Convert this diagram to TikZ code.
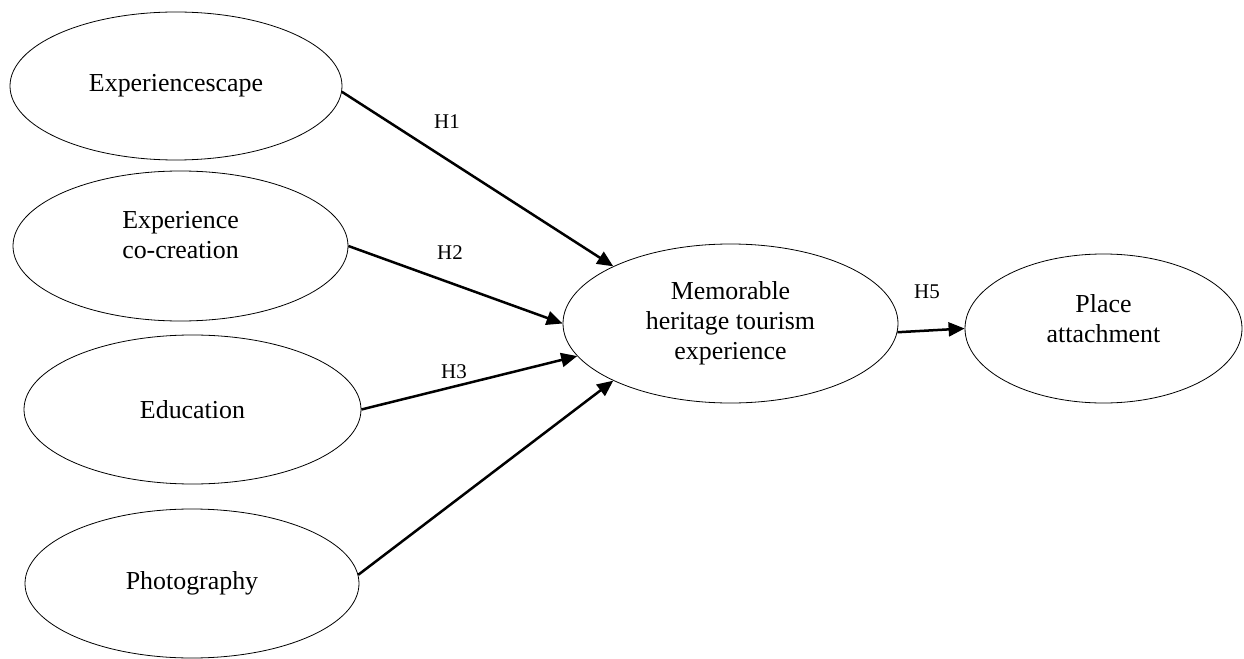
\documentclass[tikz,border=0pt]{standalone}
\usepackage{fontspec}
\setmainfont{Liberation Serif}
\usetikzlibrary{shapes.geometric,arrows.meta}
\begin{document}
\begin{tikzpicture}[x=1bp,y=-1bp,
  ell/.style={draw, ellipse, inner sep=0pt, line width=0.8bp,
    font=\fontsize{26}{30}\selectfont, align=center},
  txt/.style={font=\fontsize{26}{30}\selectfont, align=center, inner sep=0pt},
  hlab/.style={font=\fontsize{21}{24}\selectfont, inner sep=0pt},
  arr/.style={line width=2.5bp, -{Triangle[length=16bp,width=14bp]}}]
\useasboundingbox (0,0) rectangle (1244,659);

\node[ell, minimum width=332bp, minimum height=148bp] (e1) at (176,86) {Experiencescape};
\node[ell, minimum width=335bp, minimum height=150bp,
  label={[txt, yshift=11bp]center:Experience\\co-creation}] (e2) at (180.5,246) {};
\node[ell, minimum width=337bp, minimum height=149bp] (e3) at (192.5,409.5) {Education};
\node[ell, minimum width=334bp, minimum height=149bp] (e4) at (192,583.5) {Photography};
\node[ell, minimum width=335bp, minimum height=159bp] (m) at (730.5,323.5)
  {Memorable\\heritage tourism\\experience};
\node[ell, minimum width=277bp, minimum height=149bp,
  label={[txt, yshift=10bp]center:Place\\attachment}] (p) at (1103.5,328.5) {};

\draw[arr] (e1.-2) -- (m.154.5);
\draw[arr] (e2.east) -- (m.180);
\draw[arr] (e3.east) -- (m.192);
\draw[arr] (e4.3) -- (m.206);
\draw[arr] (m.-3) -- (p.west);

\node[hlab] (h1) at (447,122) {H1};
\node[hlab] (h2) at (450,253) {H2};
\node[hlab] (h3) at (454,372) {H3};
\node[hlab] (h5) at (927,292) {H5};
\end{tikzpicture}
\end{document}
